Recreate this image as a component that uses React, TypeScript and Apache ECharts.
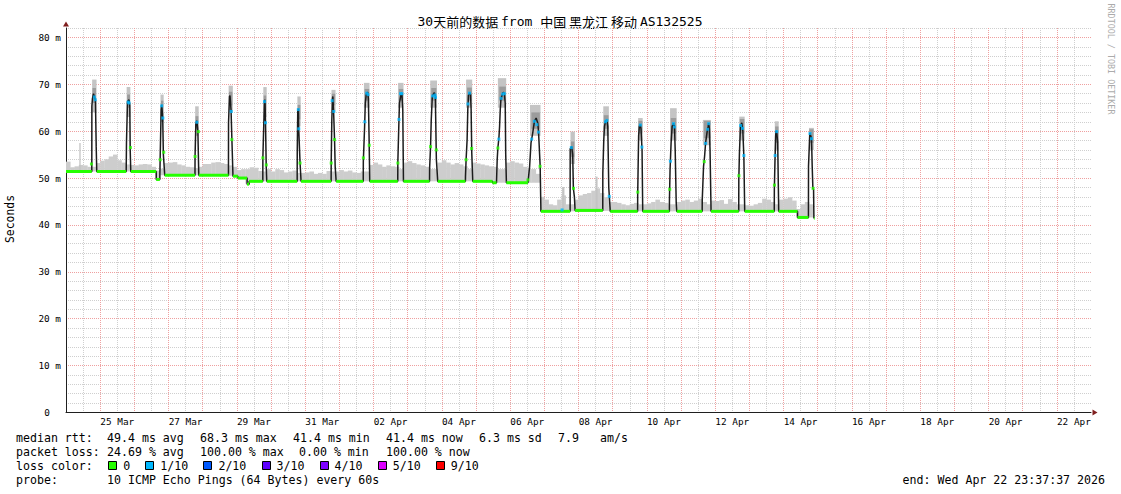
import React, { useEffect, useRef } from 'react';
import * as echarts from 'echarts';

// ---------- data (days from 24 Mar 00:00, values in ms) ----------
const titleRich = '{m|30}{c|天前的数据 }{m|from }{c|中国 黑龙江 移动 }{m|AS132525}';
const xTickLabels = ['25 Mar', '27 Mar', '29 Mar', '31 Mar', '02 Apr', '04 Apr', '06 Apr', '08 Apr', '10 Apr', '12 Apr', '14 Apr', '16 Apr', '18 Apr', '20 Apr', '22 Apr'];
const yUnit = 'm';

const medianLine: [number, number][] = [
  [0, 51.4], [0.755, 51.4],
  [0.757, 65.3], [0.775, 67], [0.805, 68.0], [0.843, 67], [0.862, 66.5], [0.884, 56.7], [0.9, 51.4],
  [1.762, 51.4],
  [1.77, 57.5], [1.8, 66.3], [1.844, 66.7], [1.867, 65.5], [1.879, 56], [1.896, 51.4],
  [2.64, 51.4], [2.642, 49.7], [2.745, 49.7],
  [2.755, 53.9], [2.785, 64.6], [2.8, 65.6], [2.83, 63.1], [2.85, 55], [2.89, 50.6],
  [3.775, 50.6],
  [3.777, 54.5], [3.8, 61.5], [3.83, 62.2], [3.86, 60], [3.886, 50.6],
  [4.755, 50.6],
  [4.757, 61.8], [4.785, 67.4], [4.8, 67.6], [4.83, 64.6], [4.855, 58.4], [4.887, 50.4],
  [5.03, 50.4], [5.032, 50.0], [5.3, 50.0], [5.302, 48.7], [5.36, 48.7], [5.362, 49.3], [5.76, 49.3],
  [5.762, 54.3], [5.79, 61.8], [5.81, 66.3], [5.824, 66.7], [5.84, 61.7], [5.86, 52.5], [5.876, 49.3],
  [6.766, 49.3],
  [6.768, 55.4], [6.783, 64.2], [6.8, 64.8], [6.81, 60.7], [6.85, 53.3], [6.88, 49.3],
  [7.76, 49.3],
  [7.762, 53.2], [7.78, 62.4], [7.8, 67], [7.81, 67.4], [7.83, 64.6], [7.86, 58.2], [7.878, 52.5], [7.907, 49.3],
  [8.7, 49.3],
  [8.702, 53.5], [8.74, 61], [8.76, 66], [8.79, 68.0], [8.83, 68.3], [8.85, 67], [8.87, 59], [8.89, 49.3],
  [9.71, 49.3],
  [9.712, 53.2], [9.74, 61], [9.76, 66], [9.81, 68.0], [9.83, 68.1], [9.857, 64.6], [9.877, 49.3],
  [10.64, 49.3],
  [10.642, 52], [10.67, 56.7], [10.69, 62.4], [10.72, 67.2], [10.75, 67.9], [10.78, 68.2], [10.81, 67.4], [10.84, 54], [10.88, 49.3],
  [11.69, 49.3],
  [11.692, 50.3], [11.71, 53.9], [11.74, 58.2], [11.76, 64.6], [11.78, 67.6], [11.81, 68.2], [11.84, 67.8], [11.857, 64.6], [11.876, 55.4], [11.905, 49.3],
  [12.48, 49.3], [12.482, 49.0], [12.6, 49.0],
  [12.62, 53.9], [12.64, 56.4], [12.67, 58.5], [12.69, 61], [12.71, 64.6], [12.73, 66.8], [12.76, 67.6], [12.8, 68.3], [12.83, 68.0], [12.855, 66], [12.87, 55], [12.89, 49.0],
  [13.52, 49.0],
  [13.57, 52.5], [13.61, 57.5], [13.66, 59.6], [13.71, 62.1], [13.76, 62.8], [13.81, 61.7], [13.83, 59.9], [13.878, 52.5], [13.9, 42.9],
  [14.755, 42.9],
  [14.757, 56.2], [14.8, 56.7], [14.83, 55], [14.85, 47.8], [14.88, 46], [14.9, 43.1],
  [15.71, 43.1],
  [15.712, 51], [15.74, 58.2], [15.76, 61], [15.79, 62.1], [15.83, 62.4], [15.857, 61], [15.886, 48], [15.93, 42.9],
  [16.73, 42.9],
  [16.732, 46], [16.75, 54.6], [16.76, 59], [16.78, 61], [16.81, 61.4], [16.83, 60.5], [16.86, 56], [16.88, 42.9],
  [17.66, 42.9],
  [17.662, 45.4], [17.68, 51.8], [17.71, 57.5], [17.74, 61], [17.78, 61.7], [17.81, 61], [17.83, 56], [17.86, 44.7], [17.876, 42.9],
  [18.62, 42.9],
  [18.622, 45.4], [18.66, 52.5], [18.69, 54.6], [18.72, 57.5], [18.765, 59.9], [18.795, 61], [18.81, 61.7], [18.83, 60.5], [18.85, 56], [18.88, 42.9],
  [19.69, 42.9],
  [19.692, 49.6], [19.71, 55.3], [19.74, 61], [19.78, 61.8], [19.81, 60], [19.84, 54.6], [19.865, 42.9],
  [20.73, 42.9],
  [20.732, 47.5], [20.75, 53.5], [20.77, 58.9], [20.78, 59.9], [20.8, 60], [20.83, 57.5], [20.85, 47.8], [20.86, 42.9],
  [21.41, 42.9], [21.412, 41.6], [21.73, 41.6],
  [21.732, 52.5], [21.77, 59.6], [21.79, 59.6], [21.82, 58.5], [21.84, 52.5], [21.86, 47.8], [21.88, 47.6], [21.89, 41.4], [21.91, 41.4],
];

// stretches where the median had 0 loss: [from, to, ms]
const zeroLossSegments: [number, number, number][] = [
  [0, 0.755, 51.4], [0.9, 1.762, 51.4], [1.896, 2.64, 51.4], [2.64, 2.745, 49.7],
  [2.89, 3.775, 50.6], [3.886, 4.755, 50.6], [4.887, 5.03, 50.4], [5.03, 5.3, 50.0],
  [5.3, 5.36, 48.7], [5.36, 5.76, 49.3], [5.876, 6.766, 49.3], [6.88, 7.76, 49.3],
  [7.907, 8.7, 49.3], [8.89, 9.71, 49.3], [9.877, 10.64, 49.3], [10.88, 11.69, 49.3],
  [11.905, 12.48, 49.3], [12.48, 12.6, 49.0], [12.89, 13.52, 49.0], [13.9, 14.755, 42.9],
  [14.9, 15.71, 43.1], [15.93, 16.73, 42.9], [16.88, 17.66, 42.9], [17.876, 18.62, 42.9],
  [18.88, 19.69, 42.9], [19.865, 20.73, 42.9], [20.86, 21.41, 42.9], [21.41, 21.73, 41.6],
  [21.89, 21.91, 41.4],
];

const zeroLossPoints: [number, number][] = [
  [0.745, 53.0], [1.885, 56.5], [2.757, 53.9], [2.86, 55.5], [3.778, 54.6], [3.875, 59.9],
  [4.855, 58.2], [5.762, 54.3], [5.862, 52.8], [6.85, 53.2], [7.762, 53.2], [7.86, 58.2],
  [8.703, 54.3], [8.875, 57.0], [9.713, 53.2], [10.67, 56.7], [10.838, 56.0], [11.71, 53.9],
  [11.872, 56.3], [12.64, 56.4], [13.52, 49.6], [13.875, 52.5], [14.853, 47.8], [16.735, 47.0],
  [17.67, 47.6], [18.68, 53.5], [19.695, 50.5], [20.735, 48.5], [21.865, 47.8],
];

const oneLossPoints: [number, number][] = [
  [0.83, 67.3], [0.857, 66.7], [1.82, 66.2], [1.845, 66.0], [2.8, 65.4], [2.835, 62.8],
  [3.83, 61.9], [4.835, 64.2], [5.81, 66.3], [5.84, 61.8], [6.8, 64.6], [6.813, 60.5],
  [7.79, 66.5], [7.835, 64.2], [8.745, 62.0], [8.8, 68.1], [8.84, 67.8], [9.745, 62.5],
  [9.79, 68.0], [9.83, 68.0], [10.73, 67.5], [10.8, 67.7], [10.815, 67.2], [11.765, 65.8],
  [11.81, 68.1], [12.668, 58.3], [12.735, 67.0], [12.78, 67.9], [12.83, 68.0], [13.63, 58.3],
  [13.71, 62.1], [13.78, 61.4], [13.83, 59.8], [14.79, 56.5], [14.52, 43.2], [15.79, 62.0],
  [15.83, 62.3], [15.9, 46.1], [16.81, 61.3], [16.855, 56.6], [17.69, 53.6], [17.78, 61.6],
  [17.81, 60.9], [18.72, 57.4], [18.78, 60.4], [18.81, 61.6], [19.745, 61.2], [19.8, 60.6],
  [19.84, 54.8], [20.755, 54.8], [20.8, 59.9], [21.775, 59.5], [21.82, 58.4],
];

// smoke around the median, 3-hour columns from day 0
const smokeStep = 0.125;
const smokeFloor = [
  51.4, 51.4, 51.4, 51.4, 51.4, 51.4, 51.4, 51.4,
  51.4, 51.4, 51.4, 51.4, 51.4, 51.4, 51.4, 51.4,
  51.4, 51.4, 51.4, 51.4, 51.4, 49.7, 50.6, 50.6,
  50.6, 50.6, 50.6, 50.6, 50.6, 50.6, 50.6, 50.6,
  50.6, 50.6, 50.6, 50.6, 50.6, 50.6, 50.5, 50.4,
  50.0, 50.0, 48.8, 49.3, 49.3, 49.3, 49.3, 49.3,
  49.3, 49.3, 49.3, 49.3, 49.3, 49.3, 49.3, 49.3,
  49.3, 49.3, 49.3, 49.3, 49.3, 49.3, 49.3, 49.3,
  49.3, 49.3, 49.3, 49.3, 49.3, 49.3, 49.3, 49.3,
  49.3, 49.3, 49.3, 49.3, 49.3, 49.3, 49.3, 49.3,
  49.3, 49.3, 49.3, 49.3, 49.3, 49.3, 49.3, 49.3,
  49.3, 49.3, 49.3, 49.3, 49.3, 49.3, 49.3, 49.3,
  49.3, 49.3, 49.3, 49.3, 49.0, 49.0, 49.0, 49.0,
  49.0, 49.0, 49.0, 49.0, 49.0, 49.0, 49.0, 42.9,
  42.9, 42.9, 42.9, 42.9, 42.9, 42.9, 42.9, 42.9,
  43.0, 43.0, 43.0, 43.0, 43.0, 43.0, 43.0, 43.0,
  42.9, 42.9, 42.9, 42.9, 42.9, 42.9, 42.9, 42.9,
  42.9, 42.9, 42.9, 42.9, 42.9, 42.9, 42.9, 42.9,
  42.9, 42.9, 42.9, 42.9, 42.9, 42.9, 42.9, 42.9,
  42.9, 42.9, 42.9, 42.9, 42.9, 42.9, 42.9, 42.9,
  42.9, 42.9, 42.9, 42.9, 42.9, 42.9, 42.9, 42.9,
  42.9, 42.9, 42.9, 41.6, 41.6, 41.6, 41.6,
];
const smokeTop = [
  53.5, 52.3, 52.5, 52.8, 52.7, 52.4, 52.4, 53.2,
  53.7, 54.0, 54.6, 55.0, 53.8, 53.3, 52.9, 52.8,
  52.7, 52.9, 53.0, 52.9, 52.4, 51.6, 52.0, 53.2,
  53.3, 53.4, 52.9, 52.7, 52.4, 52.3, 52.1, 52.4,
  53.0, 53.0, 53.3, 53.4, 53.2, 53.0, 52.7, 52.4,
  51.7, 51.9, 51.9, 52.3, 52.2, 51.5, 51.4, 51.9,
  51.4, 51.9, 51.7, 51.2, 51.4, 51.6, 51.1, 51.1,
  51.2, 51.4, 50.9, 51.1, 50.9, 51.5, 51.4, 51.4,
  51.7, 51.4, 51.6, 51.2, 51.1, 51.4, 51.4, 52.8,
  53.3, 52.9, 52.4, 52.7, 52.5, 52.4, 51.9, 53.3,
  53.6, 53.2, 52.9, 52.7, 52.4, 51.9, 51.9, 53.3,
  53.8, 53.3, 52.9, 53.2, 52.9, 52.5, 51.9, 53.3,
  53.1, 52.9, 52.7, 52.5, 52.4, 51.9, 51.9, 53.3,
  53.6, 53.3, 53.1, 52.4, 51.9, 51.9, 50.9, 46.0,
  45.4, 44.4, 44.2, 45.4, 46.3, 44.4, 44.4, 45.4,
  46.3, 46.6, 46.8, 47.3, 47.8, 46.8, 45.9, 44.9,
  44.9, 44.7, 44.4, 44.2, 44.5, 44.7, 44.4, 44.4,
  44.6, 44.9, 45.4, 44.9, 44.7, 44.4, 44.4, 44.9,
  45.2, 45.4, 44.9, 45.2, 45.6, 44.9, 44.4, 45.2,
  45.1, 45.3, 44.5, 45.5, 44.9, 44.4, 44.4, 44.2,
  44.1, 44.4, 44.7, 45.6, 45.4, 44.9, 44.4, 45.4,
  45.6, 45.9, 45.2, 43.4, 44.4, 44.9, 44.4,
];
// smoke around the daily peaks and isolated spikes: [from, to, low, high, shade]
const peakSmoke: [number, number, number, number, number][] = [
  [0.39, 0.42, 51.4, 57.5, 0], [14.52, 14.58, 42.9, 48.1, 0], [15.5, 15.55, 43.0, 50.3, 0],
  [0.765, 0.885, 64, 71.0, 0], [0.775, 0.87, 66, 69.2, 1],
  [1.775, 1.875, 63, 69.4, 0], [1.79, 1.865, 65, 67.8, 1],
  [2.765, 2.85, 62, 67.8, 0], [2.78, 2.84, 63.5, 66.5, 1],
  [3.78, 3.875, 59, 65.3, 0], [3.79, 3.865, 60.5, 63.2, 1],
  [4.76, 4.875, 64, 69.7, 0], [4.77, 4.86, 65.5, 68.4, 1],
  [5.775, 5.865, 63, 69.4, 0], [5.785, 5.85, 64.5, 67.6, 1],
  [6.772, 6.86, 61, 67.4, 0], [6.78, 6.85, 62.5, 65.6, 1],
  [7.77, 7.88, 64, 68.8, 0], [7.78, 7.87, 65.5, 68.0, 1],
  [8.72, 8.875, 65, 70.3, 0], [8.74, 8.865, 66.5, 69.0, 1],
  [9.72, 9.87, 65, 70.3, 0], [9.74, 9.86, 66.5, 69, 1],
  [10.66, 10.85, 65, 70.8, 0], [10.69, 10.83, 66.5, 69.2, 1],
  [11.71, 11.88, 65, 71, 0], [11.74, 11.87, 66.5, 69.3, 1],
  [12.64, 12.875, 65, 71.3, 0], [12.68, 12.865, 66.5, 69.5, 1],
  [13.58, 13.88, 59, 65.6, 0], [13.62, 13.86, 60.5, 64, 1],
  [14.765, 14.885, 53, 59.9, 0], [14.775, 14.87, 54.5, 57.8, 1],
  [15.725, 15.88, 59, 65.3, 0], [15.74, 15.87, 60.5, 63.4, 1],
  [16.745, 16.87, 58, 62.8, 0], [16.755, 16.86, 59.5, 62.2, 1],
  [17.68, 17.865, 58, 64.9, 0], [17.7, 17.85, 59.5, 62.8, 1],
  [18.64, 18.865, 57, 62.4, 0], [18.67, 18.855, 58.5, 62.2, 1],
  [19.705, 19.855, 58, 63.1, 0], [19.72, 19.845, 59.5, 62.6, 1],
  [20.745, 20.85, 56, 62.1, 0], [20.755, 20.845, 57.5, 61, 1],
  [21.745, 21.88, 56, 60.7, 0], [21.755, 21.87, 57.5, 60.4, 1],
];

const rttStats = ['49.4 ms avg', '68.3 ms max', '41.4 ms min', '41.4 ms now', '6.3 ms sd'];
const rttRatio = ['7.9', 'am/s'];
const lossStats = ['24.69 % avg', '100.00 % max', '0.00 % min', '100.00 % now'];
const lossLabels = ['0', '1/10', '2/10', '3/10', '4/10', '5/10', '9/10'];
const lossColors = ['#26ff00', '#00b8ff', '#0059ff', '#5e00ff', '#7e00ff', '#dd00ff', '#ff0000'];
const probeText = '10 ICMP Echo Pings (64 Bytes) every 60s';
const endText = 'end: Wed Apr 22 23:37:37 2026';
const watermark = 'RRDTOOL / TOBI OETIKER';
const yName = 'Seconds';

// ---------- styling ----------
const MONO = 'DejaVu Sans Mono';
const CJK = 'Noto Sans CJK SC';
const MAJOR = '#efa0a0';
const MINOR = '#cfcfcf';
const FUZZ = '#cdcdcd';
const SMOKE_SHADES = ['#c4c4c4', '#9c9c9c'];

export default function App() {
  const ref = useRef<HTMLDivElement>(null);

  useEffect(() => {
    const el = ref.current;
    if (!el) return;
    const chart = echarts.init(el, undefined, { renderer: 'svg' });

    const fuzzData = smokeTop.map((t, k) => [k * smokeStep, (k + 1) * smokeStep, smokeFloor[k], t]);

    const rectItem = (color: (api: any) => string) => (_p: any, api: any) => {
      const a = api.coord([api.value(0), api.value(3)]);
      const b = api.coord([api.value(1), api.value(2)]);
      return {
        type: 'rect',
        shape: { x: a[0], y: a[1], width: Math.max(1, b[0] - a[0] + 0.3), height: b[1] - a[1] },
        style: { fill: color(api) },
      };
    };

    const rows = [438, 452, 466, 480];
    const rttCols = [107, 200, 293, 386, 479];
    const lossCols = [107, 200, 299, 386];
    const txt = (x: number, y: number, text: string, extra: any = {}) => ({
      type: 'text', x, y, silent: true,
      style: { text, fontFamily: MONO, fontSize: 11.6, fill: '#000', align: 'left', verticalAlign: 'middle', ...extra },
    });

    const graphics: any[] = [
      {
        type: 'text', x: 560, y: 21, silent: true,
        style: {
          text: titleRich, align: 'center', verticalAlign: 'middle',
          rich: {
            m: { fontFamily: MONO, fontSize: 13, fill: '#000' },
            c: { fontFamily: CJK, fontSize: 13, fill: '#000' },
          },
        },
      },
      {
        type: 'text', x: 10, y: 219, rotation: Math.PI / 2, silent: true,
        style: { text: yName, fontFamily: MONO, fontSize: 11.4, fill: '#000', align: 'center', verticalAlign: 'middle' },
      },
      {
        type: 'text', x: 1111, y: 59, rotation: -Math.PI / 2, silent: true,
        style: { text: watermark, fontFamily: MONO, fontSize: 8.4, fill: '#ababab', align: 'center', verticalAlign: 'middle' },
      },
      txt(16, rows[0], 'median rtt:'),
      ...rttStats.map((s, i) => txt(rttCols[i], rows[0], s)),
      txt(558, rows[0], rttRatio[0]),
      txt(600, rows[0], rttRatio[1]),
      txt(16, rows[1], 'packet loss:'),
      ...lossStats.map((s, i) => txt(lossCols[i], rows[1], s)),
      txt(16, rows[2], 'loss color:'),
      txt(16, rows[3], 'probe:'),
      txt(107, rows[3], probeText),
      txt(1105, rows[3], endText, { align: 'right' }),
    ];
    let bx = 108.2;
    lossLabels.forEach((lab, i) => {
      graphics.push({
        type: 'rect', silent: true,
        shape: { x: Math.round(bx) + 0.5, y: rows[2] - 4.5, width: 8, height: 8 },
        style: { fill: lossColors[i], stroke: '#000', lineWidth: 1 },
      });
      graphics.push(txt(bx + 15, rows[2], lab));
      bx += 15 + lab.length * 7 + 15.1;
    });

    const xFormatter = (v: number) => {
      const k = Math.round(v * 2);
      if (k % 4 !== 3) return '';
      return xTickLabels[(k - 3) / 4] ?? '';
    };
    const yFormatter = (v: number) => {
      const r = Math.round(v);
      if (r % 10 !== 0) return '';
      return r === 0 ? '{z|0}' : `${r} ${yUnit}`;
    };

    const option: any = {
      animation: false,
      backgroundColor: '#ffffff',
      grid: { left: 66, top: 28, width: 1025, height: 384.5, containLabel: false, outerBoundsMode: 'none' },
      xAxis: [
        {
          type: 'value', min: 0, max: 30, interval: 0.5, position: 'bottom',
          axisLine: { show: true, onZero: false, lineStyle: { color: '#1f1f1f', width: 1 } },
          axisTick: { show: false },
          axisLabel: { show: true, margin: 4, fontFamily: MONO, fontSize: 9.4, color: '#000', formatter: xFormatter },
          splitLine: { show: true, showMaxLine: false, lineStyle: { color: [MAJOR, MINOR], type: 'dotted', width: 1 } },
        },
        {
          type: 'value', min: 0, max: 30, position: 'bottom',
          axisLine: { show: true, onZero: false, symbol: ['none', 'triangle'], symbolSize: [6, 5], symbolOffset: [0, 4], lineStyle: { color: '#801f1f', width: 0 } },
          axisTick: { show: false }, axisLabel: { show: false }, splitLine: { show: false },
        },
      ],
      yAxis: [
        {
          type: 'value', min: 0, max: 82, interval: 2, position: 'left',
          axisLine: { show: true, onZero: false, lineStyle: { color: '#1f1f1f', width: 1 } },
          axisTick: { show: false },
          axisLabel: {
            show: true, margin: 5, fontFamily: MONO, fontSize: 9.4, color: '#000', formatter: yFormatter,
            rich: { z: { padding: [0, 11, 0, 0], fontFamily: MONO, fontSize: 9.4, color: '#000' } },
          },
          splitLine: { show: true, lineStyle: { color: [MAJOR, MINOR, MINOR, MINOR, MINOR], type: 'dotted', width: 1 } },
        },
        {
          type: 'value', min: 0, max: 82, position: 'left',
          axisLine: { show: true, onZero: false, symbol: ['none', 'triangle'], symbolSize: [6, 5], symbolOffset: [0, 4], lineStyle: { color: '#801f1f', width: 0 } },
          axisTick: { show: false }, axisLabel: { show: false }, splitLine: { show: false },
        },
      ],
      series: [
        {
          type: 'custom', name: 'smoke', coordinateSystem: 'cartesian2d', silent: true, z: 1,
          encode: { x: [0, 1], y: [2, 3] },
          renderItem: rectItem(() => FUZZ),
          data: fuzzData,
        },
        {
          type: 'custom', name: 'peak smoke', coordinateSystem: 'cartesian2d', silent: true, z: 2,
          encode: { x: [0, 1], y: [2, 3] },
          renderItem: rectItem((api) => SMOKE_SHADES[api.value(4)]),
          data: peakSmoke,
        },
        {
          type: 'line', name: 'median', data: medianLine, showSymbol: false, symbol: 'none', silent: true, z: 3,
          lineStyle: { color: '#1c1c1c', width: 1.5 },
        },
        {
          type: 'custom', name: 'loss 0', coordinateSystem: 'cartesian2d', silent: true, z: 4,
          encode: { x: [0, 1], y: 2 },
          renderItem: (_p: any, api: any) => {
            const a = api.coord([api.value(0), api.value(2)]);
            const b = api.coord([api.value(1), api.value(2)]);
            return { type: 'line', shape: { x1: a[0], y1: a[1], x2: b[0], y2: b[1] }, style: { stroke: lossColors[0], lineWidth: 3 } };
          },
          data: zeroLossSegments,
        },
        {
          type: 'scatter', name: 'loss 0 pts', data: zeroLossPoints, symbol: 'rect', symbolSize: 3, silent: true, z: 5,
          itemStyle: { color: lossColors[0] },
        },
        {
          type: 'scatter', name: 'loss 1/10', data: oneLossPoints, symbol: 'rect', symbolSize: 3, silent: true, z: 5,
          itemStyle: { color: lossColors[1] },
        },
      ],
      graphic: graphics,
    };

    chart.setOption(option);
    return () => chart.dispose();
  }, []);

  return (
    <div
      ref={ref}
      style={{ position: 'fixed', left: 0, top: 0, width: 1121, height: 494, background: '#ffffff' }}
    />
  );
}
